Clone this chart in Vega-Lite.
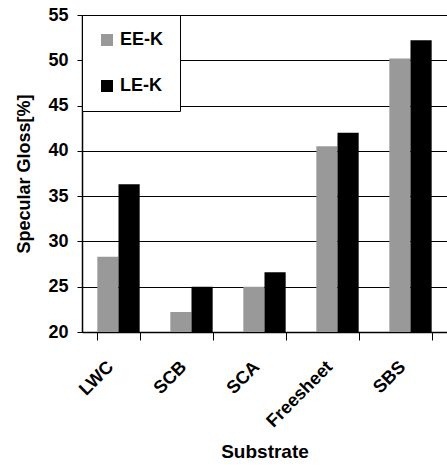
{
  "$schema": "https://vega.github.io/schema/vega-lite/v6.json",
  "width": 365,
  "height": 317,
  "autosize": {"type": "none"},
  "padding": {"left": 82, "top": 15, "right": 0, "bottom": 138},
  "background": "white",
  "config": {
    "font": "Liberation Sans",
    "view": {"stroke": null}
  },
  "data": {
    "values": [
      {"Substrate": "LWC", "Series": "EE-K", "Gloss": 28.3},
      {"Substrate": "LWC", "Series": "LE-K", "Gloss": 36.3},
      {"Substrate": "SCB", "Series": "EE-K", "Gloss": 22.2},
      {"Substrate": "SCB", "Series": "LE-K", "Gloss": 25.0},
      {"Substrate": "SCA", "Series": "EE-K", "Gloss": 25.0},
      {"Substrate": "SCA", "Series": "LE-K", "Gloss": 26.6},
      {"Substrate": "Freesheet", "Series": "EE-K", "Gloss": 40.5},
      {"Substrate": "Freesheet", "Series": "LE-K", "Gloss": 42.0},
      {"Substrate": "SBS", "Series": "EE-K", "Gloss": 50.2},
      {"Substrate": "SBS", "Series": "LE-K", "Gloss": 52.2}
    ]
  },
  "mark": {"type": "bar", "clip": true},
  "encoding": {
    "x": {
      "field": "Substrate",
      "type": "nominal",
      "sort": ["LWC", "SCB", "SCA", "Freesheet", "SBS"],
      "scale": {"paddingInner": 0.42, "paddingOuter": 0.21},
      "axis": {
        "title": "Substrate",
        "titleFontSize": 19,
        "titleFontWeight": "bold",
        "titleColor": "black",
        "titlePadding": 12,
        "labelAngle": -45,
        "labelAlign": "right",
        "labelBaseline": "middle",
        "labelFontSize": 18,
        "labelFontWeight": "bold",
        "labelColor": "black",
        "labelPadding": 24,
        "labelOffset": -8,
        "domainColor": "black",
        "domainWidth": 1.5,
        "tickColor": "black",
        "tickBand": "extent",
        "tickSize": 8,
        "grid": false
      }
    },
    "xOffset": {"field": "Series", "type": "nominal"},
    "y": {
      "field": "Gloss",
      "type": "quantitative",
      "scale": {"domain": [20, 55], "zero": false, "nice": false},
      "axis": {
        "title": "Specular Gloss[%]",
        "titleFontSize": 18,
        "titleFontWeight": "bold",
        "titleColor": "black",
        "titlePadding": 14,
        "values": [20, 25, 30, 35, 40, 45, 50, 55],
        "labelFontSize": 18,
        "labelFontWeight": "bold",
        "labelColor": "black",
        "labelPadding": 9,
        "domainColor": "black",
        "domainWidth": 1.5,
        "tickColor": "black",
        "tickSize": 5,
        "grid": true,
        "gridColor": "black",
        "gridOpacity": 1,
        "gridWidth": 1
      }
    },
    "color": {
      "field": "Series",
      "type": "nominal",
      "scale": {"domain": ["EE-K", "LE-K"], "range": ["#999999", "#000000"]},
      "legend": {
        "title": null,
        "orient": "none",
        "legendX": 0,
        "legendY": 0,
        "direction": "vertical",
        "symbolType": "square",
        "symbolSize": 144,
        "symbolStrokeWidth": 0,
        "labelFontSize": 18,
        "labelFontWeight": "bold",
        "labelColor": "black",
        "labelOffset": 4,
        "padding": 16,
        "rowPadding": 28,
        "strokeColor": "black",
        "fillColor": "white",
        "offset": 0
      }
    }
  }
}
